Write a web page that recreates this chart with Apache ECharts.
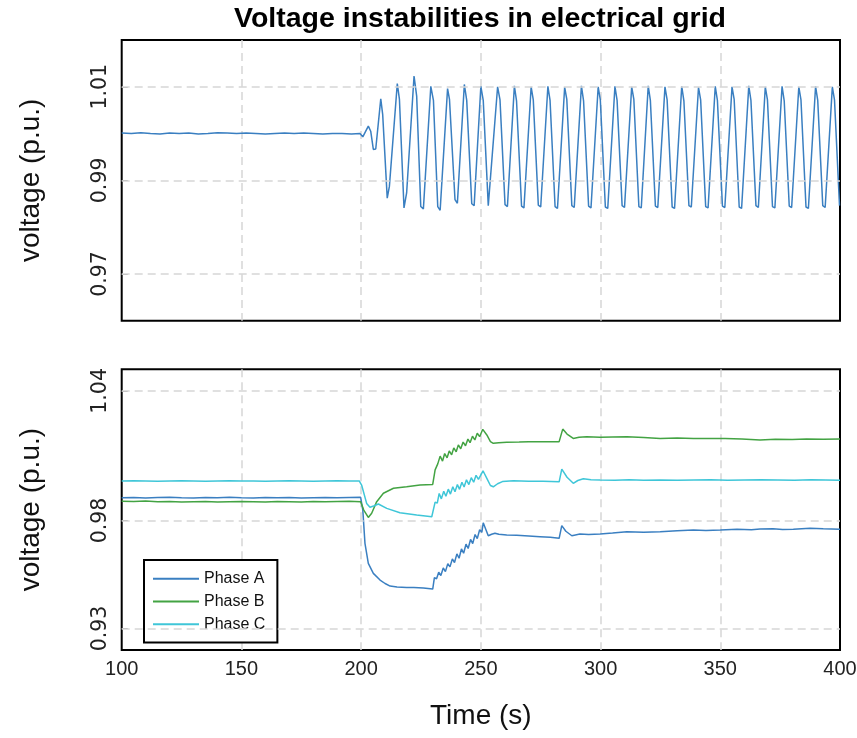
<!DOCTYPE html>
<html>
<head>
<meta charset="utf-8">
<title>Voltage instabilities in electrical grid</title>
<script src="https://cdn.jsdelivr.net/npm/echarts@6/dist/echarts.min.js"></script>
<style>
    html, body { margin: 0; padding: 0; background: #fff; }
    #chart { width: 857px; height: 738px; }
</style>
</head>
<body>
<div id="chart"></div>
<script>
    // axis ticks
    var timeTicks = [100, 150, 200, 250, 300, 350, 400];
    var topTicks = [0.97, 0.99, 1.01];
    var bottomTicks = [0.93, 0.98, 1.04];
    var phaseNames = ['Phase A', 'Phase B', 'Phase C'];

    // upper panel: oscillating voltage [time (s), voltage (p.u.)]
    var gridVoltage = [
        [100, 1.0001], [104, 1.0000], [108, 1.0002], [112, 1.0000], [116, 0.9999], [120, 1.0001], [124, 1.0000],
        [128, 1.0001], [132, 0.9999], [136, 1.0000], [140, 1.0002], [144, 1.0001], [148, 1.0000], [152, 1.0001],
        [156, 1.0000], [160, 0.9999], [164, 1.0000], [168, 1.0001], [172, 1.0000], [176, 1.0001], [180, 1.0000],
        [184, 0.9999], [188, 1.0000], [192, 1.0000], [196, 0.9999], [199.5, 1.0000],
        [200.7, 0.9993], [203.0, 1.0016], [204.0, 1.0005], [205.1, 0.9966], [206.1, 0.9967], [208.2, 1.0074],
        [209.0, 1.0041], [210.9, 0.9862], [211.8, 0.9887],
        [215.1, 1.0107], [216.0, 1.0073], [217.9, 0.9841], [219.0, 0.9873],
        [222.1, 1.0123], [223.2, 1.0080], [224.9, 0.9844], [226.0, 0.9839],
        [229.1, 1.0101], [230.2, 1.0071], [232.0, 0.9844], [233.0, 0.9836],
        [236.1, 1.0096], [236.9, 1.0073], [239.2, 0.9859], [240.2, 0.9851],
        [243.1, 1.0105], [244.1, 1.0071], [246.2, 0.9850], [247.2, 0.9846],
        [250.0, 1.0101], [251.0, 1.0071], [253.1, 0.9846], [253.9, 0.9843],
        [257.0, 1.0100], [258.0, 1.0072], [260.1, 0.9848], [261.1, 0.9844],
        [264.0, 1.0102], [264.9, 1.0070], [267.0, 0.9845], [268.0, 0.9841],
        [271.0, 1.0100], [271.9, 1.0072], [274.0, 0.9847], [275.0, 0.9843],
        [278.0, 1.0101], [278.9, 1.0071], [281.0, 0.9844], [282.0, 0.9840],
        [285.0, 1.0099], [285.9, 1.0073], [288.0, 0.9846], [289.0, 0.9842],
        [292.0, 1.0102], [292.9, 1.0070], [295.0, 0.9845], [296.0, 0.9841],
        [299.0, 1.0100], [299.9, 1.0072], [302.0, 0.9843], [303.0, 0.9840],
        [306.0, 1.0101], [306.9, 1.0071], [309.0, 0.9846], [310.0, 0.9842],
        [313.0, 1.0100], [313.9, 1.0073], [316.0, 0.9844], [317.0, 0.9841],
        [319.9, 1.0102], [320.8, 1.0071], [322.9, 0.9845], [323.9, 0.9842],
        [326.9, 1.0100], [327.8, 1.0072], [329.9, 0.9843], [330.9, 0.9840],
        [333.9, 1.0101], [334.8, 1.0070], [336.9, 0.9846], [337.9, 0.9843],
        [340.9, 1.0099], [341.8, 1.0072], [343.9, 0.9844], [344.9, 0.9841],
        [347.9, 1.0101], [348.8, 1.0071], [350.9, 0.9845], [351.9, 0.9842],
        [354.9, 1.0100], [355.8, 1.0073], [357.9, 0.9843], [358.9, 0.9840],
        [361.9, 1.0102], [362.8, 1.0071], [364.9, 0.9846], [365.9, 0.9842],
        [368.8, 1.0100], [369.7, 1.0072], [371.8, 0.9844], [372.8, 0.9841],
        [375.8, 1.0101], [376.7, 1.0070], [378.8, 0.9845], [379.8, 0.9842],
        [382.8, 1.0100], [383.7, 1.0072], [385.8, 0.9843], [386.8, 0.9840],
        [389.8, 1.0101], [390.7, 1.0071], [392.8, 0.9846], [393.8, 0.9842],
        [396.8, 1.0100], [397.7, 1.0072], [399.8, 0.9846]
    ];

    // lower panel: the three phases
    var phaseA = [
        [100, 0.9905], [105, 0.9906], [110, 0.9904], [115, 0.9906], [120, 0.9907], [125, 0.9905], [130, 0.9904],
        [135, 0.9906], [140, 0.9905], [145, 0.9907], [150, 0.9905], [155, 0.9904], [160, 0.9906], [165, 0.9905],
        [170, 0.9906], [175, 0.9904], [180, 0.9905], [185, 0.9906], [190, 0.9905], [195, 0.9906], [199.8, 0.9907],
        [200.7, 0.9848], [201.6, 0.9694], [203.0, 0.9601], [205.1, 0.9555], [207.9, 0.9524], [210.0, 0.9508],
        [212.1, 0.9496], [215.0, 0.9492], [219.0, 0.9490], [222.0, 0.9489], [226.0, 0.9487], [229.9, 0.9482],
        [230.6, 0.9535], [231.5, 0.9530], [232.4, 0.9560], [233.3, 0.9545], [234.3, 0.9580], [235.2, 0.9563],
        [236.2, 0.9600], [237.1, 0.9585], [238.1, 0.9622], [239.0, 0.9605], [240.0, 0.9645], [240.9, 0.9625],
        [241.9, 0.9668], [242.8, 0.9648], [243.8, 0.9690], [244.7, 0.9670], [245.7, 0.9712], [246.6, 0.9693],
        [247.6, 0.9735], [248.5, 0.9716], [249.5, 0.9757], [250.4, 0.9745], [251.0, 0.9789],
        [252.0, 0.9760], [253.1, 0.9729], [254.5, 0.9736], [255.9, 0.9741], [257.5, 0.9736], [260.8, 0.9733],
        [265.0, 0.9731], [270.0, 0.9728], [274.7, 0.9725], [279.0, 0.9722], [282.7, 0.9717], [283.8, 0.9776],
        [285.5, 0.9750], [288.0, 0.9729], [291.4, 0.9737], [295.0, 0.9735], [299.8, 0.9737], [305.0, 0.9742],
        [311.0, 0.9748], [318.0, 0.9745], [324.9, 0.9748], [332.0, 0.9752], [338.8, 0.9756], [344.0, 0.9754],
        [350.0, 0.9756], [357.0, 0.9759], [363.0, 0.9757], [366.6, 0.9760], [372.0, 0.9762], [376.0, 0.9758],
        [380.5, 0.9759], [387.5, 0.9764], [393.0, 0.9761], [400, 0.9759]
    ];
    var phaseB = [
        [100, 0.9889], [105, 0.9888], [110, 0.9890], [115, 0.9887], [120, 0.9888], [125, 0.9886], [130, 0.9887],
        [135, 0.9888], [140, 0.9886], [145, 0.9887], [150, 0.9888], [155, 0.9887], [160, 0.9886], [165, 0.9888],
        [170, 0.9887], [175, 0.9886], [180, 0.9888], [185, 0.9887], [190, 0.9888], [195, 0.9889], [199.8, 0.9887],
        [201.1, 0.9848], [203.0, 0.9814], [204.4, 0.9833], [206.5, 0.9887], [209.3, 0.9926], [213.5, 0.9949],
        [219.0, 0.9956], [224.6, 0.9964], [229.9, 0.9967],
        [230.9, 1.0034], [232.0, 1.0062], [233.0, 1.0098], [234.0, 1.0075], [234.9, 1.0110], [235.9, 1.0090],
        [236.8, 1.0122], [237.8, 1.0104], [238.7, 1.0136], [239.7, 1.0118], [240.6, 1.0150], [241.6, 1.0132],
        [242.6, 1.0163], [243.6, 1.0146], [244.6, 1.0177], [245.5, 1.0160], [246.5, 1.0190], [247.5, 1.0173],
        [248.5, 1.0204], [249.5, 1.0188], [250.8, 1.0222],
        [252.5, 1.0196], [254.0, 1.0165], [255.2, 1.0157], [257.5, 1.0160], [260.8, 1.0162], [266.0, 1.0163],
        [270.0, 1.0164], [274.7, 1.0165], [279.0, 1.0164], [282.7, 1.0165], [284.2, 1.0223], [286.0, 1.0200],
        [288.6, 1.0180], [291.0, 1.0185], [294.2, 1.0188], [299.8, 1.0185], [305.0, 1.0187], [311.0, 1.0188],
        [318.0, 1.0184], [324.9, 1.0180], [332.0, 1.0182], [338.8, 1.0180], [345.0, 1.0179], [352.0, 1.0180],
        [359.0, 1.0177], [366.6, 1.0173], [373.0, 1.0176], [380.0, 1.0175], [386.0, 1.0177], [393.0, 1.0176],
        [400, 1.0177]
    ];
    var phaseC = [
        [100, 0.9983], [105, 0.9984], [110, 0.9983], [115, 0.9982], [120, 0.9983], [125, 0.9984], [130, 0.9983],
        [135, 0.9982], [140, 0.9983], [145, 0.9984], [150, 0.9983], [155, 0.9983], [160, 0.9982], [165, 0.9983],
        [170, 0.9984], [175, 0.9983], [180, 0.9982], [185, 0.9983], [190, 0.9984], [195, 0.9983], [199.2, 0.9983],
        [200.2, 0.9964], [202.3, 0.9879], [203.7, 0.9861], [205.5, 0.9868], [207.2, 0.9876], [210.7, 0.9856],
        [216.2, 0.9836], [223.2, 0.9825], [229.5, 0.9817],
        [230.9, 0.9885], [231.8, 0.9880], [232.6, 0.9925], [233.5, 0.9900], [234.5, 0.9935], [235.4, 0.9912],
        [236.4, 0.9945], [237.3, 0.9922], [238.3, 0.9956], [239.2, 0.9933], [240.2, 0.9966], [241.1, 0.9944],
        [242.1, 0.9977], [243.0, 0.9955], [244.0, 0.9988], [245.0, 0.9966], [246.0, 0.9998], [247.0, 0.9977],
        [248.0, 1.0009], [249.0, 0.9990], [250.9, 1.0030],
        [252.5, 0.9995], [254.0, 0.9962], [255.2, 0.9956], [257.0, 0.9970], [259.0, 0.9980], [263.6, 0.9984],
        [270.0, 0.9982], [276.0, 0.9981], [282.7, 0.9979], [283.8, 1.0038], [286.0, 1.0000], [288.6, 0.9972],
        [290.5, 0.9985], [292.8, 0.9993], [296.0, 0.9988], [299.8, 0.9987], [306.0, 0.9986], [312.0, 0.9988],
        [318.0, 0.9986], [325.0, 0.9987], [332.0, 0.9986], [339.0, 0.9987], [346.0, 0.9988], [353.0, 0.9986],
        [360.0, 0.9987], [367.0, 0.9988], [374.0, 0.9987], [381.0, 0.9986], [388.0, 0.9988], [394.0, 0.9987],
        [400, 0.9986]
    ];

    var colors = ['#3a7fc1', '#43a343', '#3fc6d8'];
    var font = 'Liberation Sans';
    var gridColor = '#d6d6d6';

    // x axis for both panels
    function timeAxis(gridIndex, showLabels) {
        return {
            type: 'value', gridIndex: gridIndex,
            min: timeTicks[0], max: timeTicks[timeTicks.length - 1], interval: 50,
            axisLine: {show: false},
            axisTick: {show: false},
            axisLabel: {show: showLabels, fontFamily: font, fontSize: 20, color: '#222', margin: 9},
            splitLine: {show: true, showMinLine: false, showMaxLine: false,
                lineStyle: {color: gridColor, type: [8, 5], width: 1.5}},
            name: showLabels ? 'Time (s)' : '',
            nameLocation: 'middle', nameGap: 52,
            nameTextStyle: {fontFamily: font, fontSize: 28, color: '#111'}
        };
    }

    // y axis with ticks only at given values
    function voltAxis(gridIndex, min, max, ticks) {
        return {
            type: 'value', gridIndex: gridIndex, min: min, max: max,
            axisLine: {show: false},
            axisTick: {show: true, inside: true, length: 6, customValues: ticks, lineStyle: {color: '#888'}},
            axisLabel: {
                customValues: ticks, rotate: 90, margin: 11,
                fontFamily: 'DejaVu Sans', fontSize: 20.5, color: '#222',
                formatter: function (v) { return v.toFixed(2); }
            },
            splitLine: {show: false},
            name: 'voltage (p.u.)', nameLocation: 'middle', nameGap: 76, nameRotate: 90,
            nameTextStyle: {fontFamily: font, fontSize: 28, color: '#111'}
        };
    }

    // dashed horizontal grid lines at the labelled values
    function gridLines(axisIndex, ticks) {
        return {
            type: 'line', xAxisIndex: axisIndex, yAxisIndex: axisIndex, data: [], z: 1,
            silent: true,
            markLine: {
                silent: true, symbol: 'none', label: {show: false},
                lineStyle: {color: gridColor, type: [8, 5], width: 1.5},
                data: ticks.map(function (t) { return {yAxis: t}; })
            }
        };
    }

    function phaseLine(name, data, color, axisIndex) {
        return {
            name: name, type: 'line', xAxisIndex: axisIndex, yAxisIndex: axisIndex,
            data: data, showSymbol: false, z: 3, animation: false,
            lineStyle: {color: color, width: 1.5}, itemStyle: {color: color}
        };
    }

    var myChart = echarts.init(document.getElementById('chart'));
    myChart.setOption({
        animation: false,
        backgroundColor: '#fff',
        title: {
            text: 'Voltage instabilities in electrical grid',
            left: 475, top: 0, textAlign: 'center',
            textStyle: {fontFamily: font, fontSize: 28.5, fontWeight: 'bold', color: '#000'}
        },
        legend: {
            data: phaseNames,
            orient: 'vertical', left: 144, top: 560,
            padding: [10.5, 12, 10, 9],
            icon: 'rect', itemWidth: 46, itemHeight: 2, itemGap: 6.2,
            backgroundColor: '#fff', borderColor: '#000', borderWidth: 2,
            textStyle: {fontFamily: font, fontSize: 16, color: '#111', lineHeight: 16.5}
        },
        grid: [
            {left: 121.7, right: 17, top: 40, height: 280.7, show: true, outerBoundsMode: 'none',
                borderColor: '#000', borderWidth: 2, backgroundColor: 'transparent'},
            {left: 121.7, right: 17, top: 369.3, height: 280.7, show: true, outerBoundsMode: 'none',
                borderColor: '#000', borderWidth: 2, backgroundColor: 'transparent'}
        ],
        xAxis: [timeAxis(0, false), timeAxis(1, true)],
        yAxis: [voltAxis(0, 0.96, 1.02, topTicks), voltAxis(1, 0.92, 1.05, bottomTicks)],
        series: [
            gridLines(0, topTicks),
            gridLines(1, bottomTicks),
            phaseLine('Voltage', gridVoltage, colors[0], 0),
            phaseLine(phaseNames[0], phaseA, colors[0], 1),
            phaseLine(phaseNames[1], phaseB, colors[1], 1),
            phaseLine(phaseNames[2], phaseC, colors[2], 1)
        ]
    });
</script>
</body>
</html>
